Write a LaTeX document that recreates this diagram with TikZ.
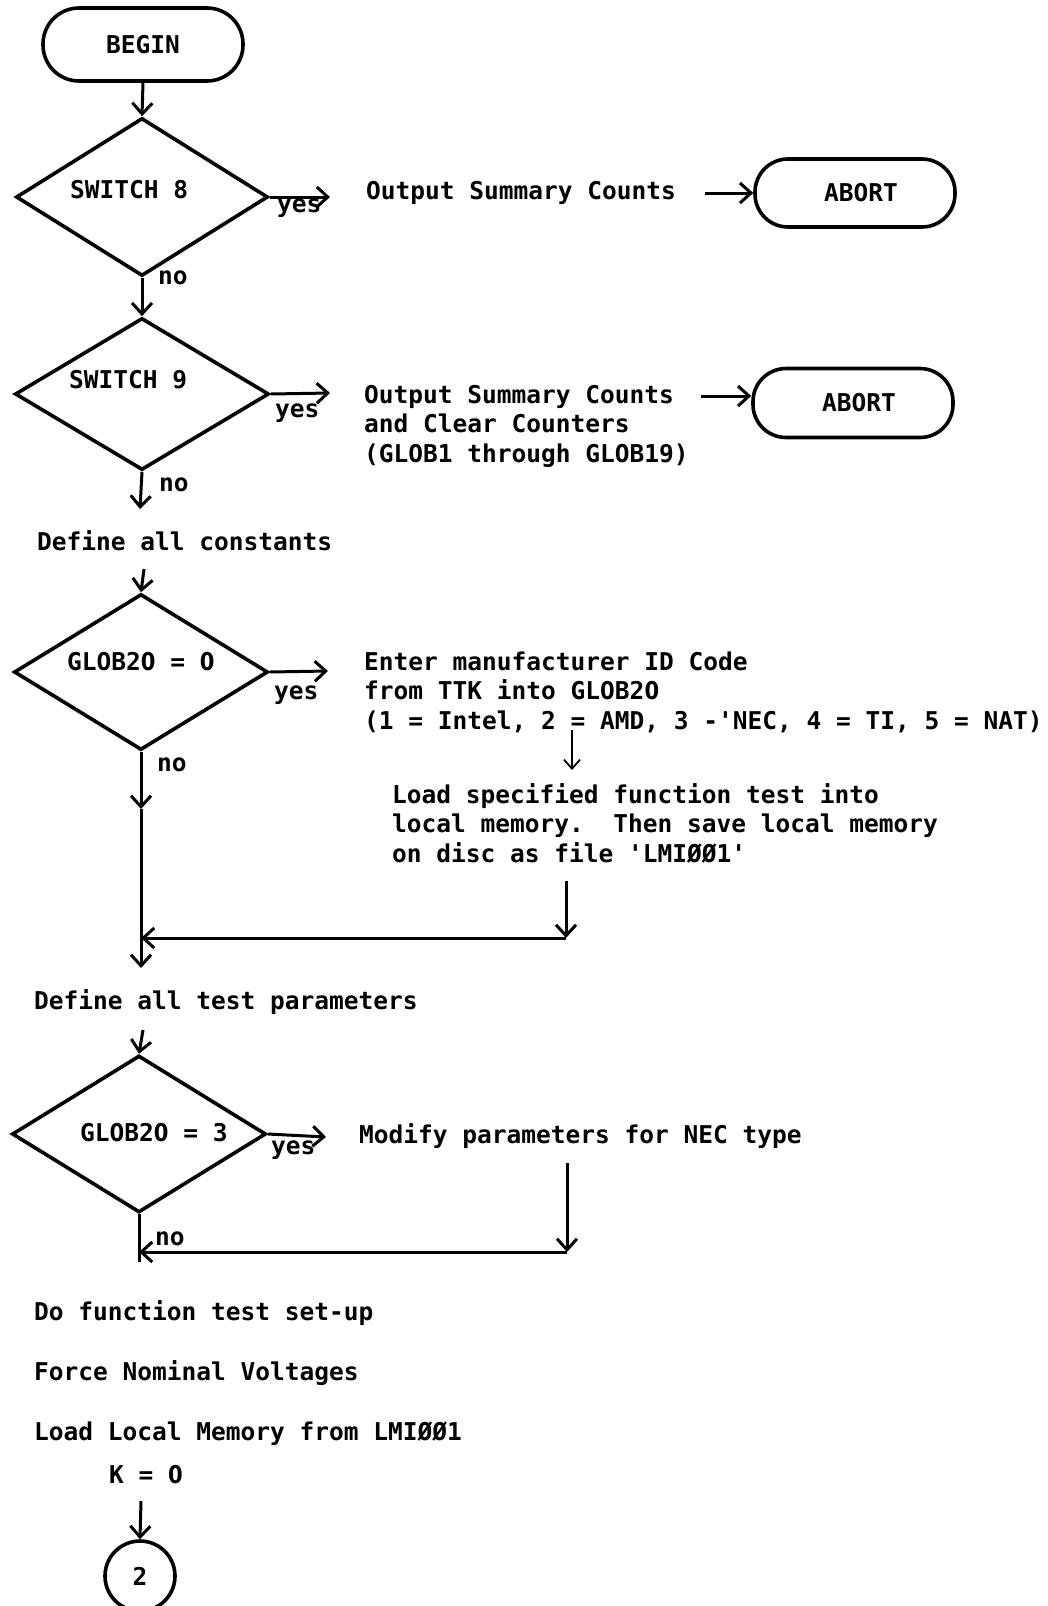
\documentclass[tikz,border=0pt]{standalone}
\usepackage{fontspec}
\usepackage{graphicx}
\setmonofont{DejaVu Sans Mono}
\newfontfamily\zerofont{DejaVu Sans}
\newcommand\zr{\makebox[0.602em]{\scalebox{0.86}[1]{\zerofont\bfseries 0}}}
\usetikzlibrary{arrows.meta,shapes.geometric}
\begin{document}
\begin{tikzpicture}[x=1pt,y=-1pt,
  font=\ttfamily\bfseries\fontsize{24.5}{29.7}\selectfont,
  term/.style={draw, line width=3.6pt, minimum width=200pt, inner sep=0pt},
  dec/.style={draw, diamond, line width=3.6pt, inner sep=0pt},
  arr/.style={line width=3pt, -{Straight Barb[length=11pt,width=20pt]}},
  thinarr/.style={line width=1.8pt, -{Straight Barb[length=9pt,width=16pt]}},
  ln/.style={line width=3pt},
  txt/.style={anchor=base west, inner sep=0pt}]
\useasboundingbox (0,0) rectangle (1047,1606);

% terminals
\node[term, rounded corners=36pt, minimum height=73pt] (begin) at (143,44.5) {BEGIN\hspace{8pt}};
\node[term, rounded corners=33pt, minimum height=68pt] (ab1) at (855,193) {\hspace{12pt}ABORT};
\node[term, rounded corners=33pt, minimum height=69pt] (ab2) at (853,403) {\hspace{12pt}ABORT};

% decisions
\node[dec, minimum width=252pt, minimum height=158pt] (s8) at (142,197) {};
\node[txt] (s8t) at (70,198) {SWITCH 8};
\node[dec, minimum width=254pt, minimum height=152pt] (s9) at (142,394) {};
\node[txt] (s9t) at (69,388) {SWITCH 9};
\node[dec, minimum width=254pt, minimum height=156pt] (g0) at (141,672) {};
\node[txt] (g0t) at (67,670) {GLOB2\zr{} = \zr};
\node[dec, minimum width=254pt, minimum height=157pt] (g3) at (139,1134) {};
\node[txt] (g3t) at (80,1141) {GLOB2\zr{} = 3};

% text blocks
\node[txt] (out1) at (366,199) {Output Summary Counts};
\node[txt] (out2) at (364,403) {\vtop{\hbox{Output Summary Counts}\hbox{and Clear Counters}\hbox{(GLOB1 through GLOB19)}}};
\node[txt] (defc) at (37,550) {Define all constants};
\node[txt] (enter) at (364,670) {\vtop{\hbox{Enter manufacturer ID Code}\hbox{from TTK into GLOB2\zr}\hbox{(1 = Intel, 2 = AMD, 3 -'NEC, 4 = TI, 5 = NAT)}}};
\node[txt] (loadsp) at (392,803) {\vtop{\hbox{Load specified function test into}\hbox{local memory.\ \ Then save local memory}\hbox{on disc as file 'LMIØØ1'}}};
\node[txt] (defp) at (34,1009) {Define all test parameters};
\node[txt] (modify) at (359,1143) {Modify parameters for NEC type};
\node[txt] (dofn) at (34,1320) {Do function test set-up};
\node[txt] (force) at (34,1380) {Force Nominal Voltages};
\node[txt] (loadlm) at (34,1440) {Load Local Memory from LMIØØ1};
\node[anchor=base, inner sep=0pt] (k0) at (146,1483) {K = \zr};
\node[draw, circle, line width=3.6pt, minimum size=70pt, inner sep=0pt] (c2) at (140,1576) {2};

% labels
\node[txt] (y8) at (277,212) {yes};
\node[txt] (y9) at (275,417) {yes};
\node[txt] (y0) at (274,699) {yes};
\node[txt] (y3) at (271,1154) {yes};
\node[txt] (n8) at (158,284) {no};
\node[txt] (n9) at (159,491) {no};
\node[txt] (n0) at (157,771) {no};
\node[txt] (n3) at (155,1245) {no};

% coordinates
\coordinate (s8y) at (330,197);
\coordinate (s9y) at (330,393);
\coordinate (g0y) at (328,671);
\coordinate (g3y) at (326,1137);
\coordinate (a1s) at (705,193);
\coordinate (a2s) at (701,396);
\coordinate (s9n) at (140,509);
\coordinate (dcb) at (144,569);
\coordinate (e1) at (572,730);
\coordinate (e2) at (572,770);
\coordinate (l1) at (566,881);
\coordinate (l2) at (566,938);
\coordinate (m1) at (141,938);
\coordinate (g0m) at (141,809);
\coordinate (g0e) at (141,968);
\coordinate (dpb) at (143,1030);
\coordinate (md1) at (567,1163);
\coordinate (md2) at (567,1252);
\coordinate (m2) at (139,1252);
\coordinate (g3e) at (139,1262);
\coordinate (k0b) at (141,1501);

% connectors
\draw[arr] (begin.south) -- (s8.north);
\draw[arr] (s8.east) -- (s8y);
\draw[arr] (a1s) -- (ab1.west);
\draw[arr] (s8.south) -- (s9.north);
\draw[arr] (s9.east) -- (s9y);
\draw[arr] (a2s) -- (a2s -| ab2.west);
\draw[arr] (s9.south) -- (s9n);
\draw[arr] (dcb) -- (g0.north);
\draw[arr] (g0.east) -- (g0y);
\draw[thinarr] (e1) -- (e2);
\draw[arr] (l1) -- (l2);
\draw[arr] (l2) -- (m1);
\draw[arr] (g0.south) -- (g0m);
\draw[arr] (g0m) -- (g0e);
\draw[arr] (dpb) -- (g3.north);
\draw[arr] (g3.east) -- (g3y);
\draw[arr] (md1) -- (md2);
\draw[arr] (md2) -- (m2);
\draw[ln] (g3.south) -- (g3e);
\draw[arr] (k0b) -- (c2.north);
\end{tikzpicture}
\end{document}
